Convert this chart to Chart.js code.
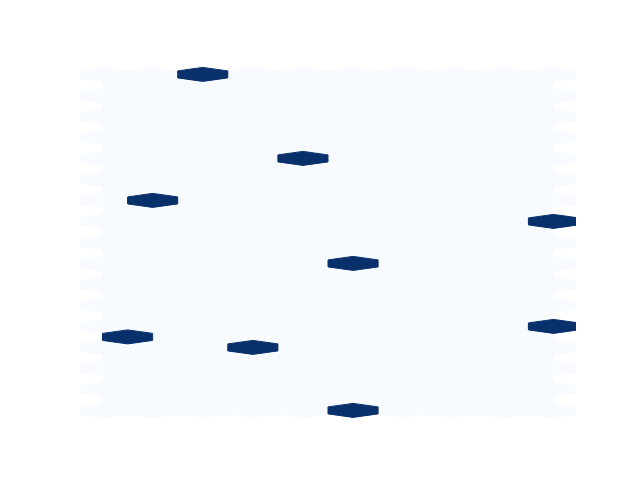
<!DOCTYPE html>
<html>
<head>
<meta charset="utf-8">
<script src="https://cdn.jsdelivr.net/npm/chart.js@4"></script>
<style>
  body { margin: 0; background: #fff; }
  #wrap { width: 640px; height: 480px; }
</style>
</head>
<body>
<div id="wrap"><canvas id="hexChart" width="640" height="480"></canvas></div>
<script>
// points that were binned (data units)
const xs = [2, 4, 1, 9, 5, 0, 3, 9, 5];
const ys = [16, 12, 10, 9, 7, 3.5, 3, 4, 0];

// hex grid size (nx, ny)
const gridX = 9;
const gridY = 16;

// Blues colormap stops
const blues = ["#f7fbff", "#deebf7", "#c6dbef", "#9ecae1", "#6baed6", "#4292c6", "#2171b5", "#08519c", "#08306b"];

const xMin = Math.min(...xs), xMax = Math.max(...xs);
const yMin = Math.min(...ys), yMax = Math.max(...ys);
const sx = (xMax - xMin) / gridX;
const sy = (yMax - yMin) / gridY;

function hexColor(t) {
    const p = Math.max(0, Math.min(1, t)) * (blues.length - 1);
    const i = Math.min(Math.floor(p), blues.length - 2);
    const f = p - i;
    const a = parseInt(blues[i].slice(1), 16), b = parseInt(blues[i + 1].slice(1), 16);
    const mix = s => Math.round(((a >> s) & 255) * (1 - f) + ((b >> s) & 255) * f);
    return "rgb(" + mix(16) + "," + mix(8) + "," + mix(0) + ")";
}

// count the points per hexagon, same way as matplotlib's hexbin
function binPoints() {
    const cells = [];
    const counts = {};
    for (let i = 0; i <= gridX; i++)
        for (let j = 0; j <= gridY; j++) cells.push({ key: "a" + i + "_" + j, x: xMin + i * sx, y: yMin + j * sy });
    for (let i = 0; i < gridX; i++)
        for (let j = 0; j < gridY; j++) cells.push({ key: "b" + i + "_" + j, x: xMin + (i + 0.5) * sx, y: yMin + (j + 0.5) * sy });

    xs.forEach((x, k) => {
        const ix = (x - xMin) / sx, iy = (ys[k] - yMin) / sy;
        const ix1 = Math.round(ix), iy1 = Math.round(iy);
        const ix2 = Math.floor(ix), iy2 = Math.floor(iy);
        const d1 = (ix - ix1) ** 2 + 3 * (iy - iy1) ** 2;
        const d2 = (ix - ix2 - 0.5) ** 2 + 3 * (iy - iy2 - 0.5) ** 2;
        const key = d1 < d2 ? "a" + ix1 + "_" + iy1 : "b" + ix2 + "_" + iy2;
        counts[key] = (counts[key] || 0) + 1;
    });
    cells.forEach(c => c.count = counts[c.key] || 0);
    return cells;
}

const hexCells = binPoints();
const maxCount = Math.max(...hexCells.map(c => c.count));

const hexPlugin = {
    id: "hexbin",
    beforeDatasetsDraw(chart) {
        const ctx = chart.ctx;
        const xScale = chart.scales.x, yScale = chart.scales.y;
        const area = chart.chartArea;
        const offX = [0, 0.5, 0.5, 0, -0.5, -0.5];
        const offY = [1, 0.5, -0.5, -1, -0.5, 0.5];

        ctx.save();
        ctx.beginPath();
        ctx.rect(area.left, area.top, area.right - area.left, area.bottom - area.top);
        ctx.clip();
        ctx.lineJoin = "miter";
        ctx.miterLimit = 10;
        const sorted = hexCells.slice().sort((a, b) => a.count - b.count);
        sorted.forEach(c => {
            const col = hexColor(c.count / maxCount);
            ctx.beginPath();
            for (let v = 0; v < 6; v++) {
                const px = xScale.getPixelForValue(c.x + offX[v] * sx);
                const py = yScale.getPixelForValue(c.y + offY[v] * sy / 3);
                if (v === 0) ctx.moveTo(px, py); else ctx.lineTo(px, py);
            }
            ctx.closePath();
            ctx.fillStyle = col;
            ctx.strokeStyle = col;
            ctx.lineWidth = 1;
            ctx.fill();
            ctx.stroke();
        });
        ctx.restore();
    }
};

const padX = (xMax - xMin) * 0.05;
const padY = (yMax - yMin) * 0.05;

new Chart(document.getElementById("hexChart"), {
    type: "scatter",
    data: {
        datasets: [{
            data: xs.map((x, i) => ({ x: x, y: ys[i] })),
            pointRadius: 0,
            pointHoverRadius: 0
        }]
    },
    options: {
        responsive: false,
        animation: false,
        devicePixelRatio: 1,
        layout: { padding: { left: 80, right: 64, top: 57.6, bottom: 52.8 } },
        plugins: { legend: { display: false }, tooltip: { enabled: false } },
        scales: {
            x: { type: "linear", display: false, min: xMin - padX, max: xMax + padX },
            y: { type: "linear", display: false, min: yMin - padY, max: yMax + padY }
        }
    },
    plugins: [hexPlugin]
});
</script>
</body>
</html>
